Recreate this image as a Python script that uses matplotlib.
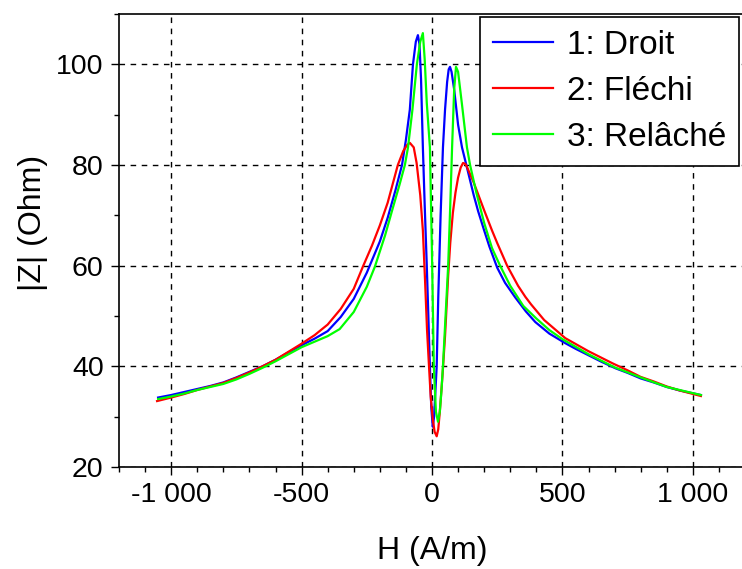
import matplotlib
matplotlib.use('Agg')
import matplotlib.pyplot as plt
from matplotlib.ticker import MultipleLocator, FuncFormatter

plt.rcParams['font.family'] = ['Liberation Sans', 'DejaVu Sans']

# 1: Droit
h_droit = [-1050, -1000, -950, -900, -850, -800, -750, -700, -650, -600, -550, -500,
           -450, -400, -350, -300, -250, -200, -170, -140, -115, -100, -85, -73, -62, -54,
           -48, -42, -35, -28, -20, -14, -8, -3, 3, 8, 13, 18, 24, 33, 42, 50, 58, 64, 69,
           75, 85, 100, 115, 134, 160, 177, 200, 220, 250, 280, 319, 360, 396, 450, 511, 550,
           600, 650, 704, 750, 800, 850, 900, 950, 1031]
z_droit = [33.8, 34.3, 34.9, 35.5, 36.1, 36.8, 37.8, 38.9, 40.0, 41.3, 42.8, 44.2,
           45.5, 47.0, 49.8, 53.4, 58.6, 64.8, 69.5, 75.0, 80.0, 85.0, 91.0, 100.0, 104.5, 105.8,
           104.0, 97.0, 83.5, 72.0, 60.0, 50.0, 40.0, 32.0, 28.0, 30.0, 35.0, 40.0, 53.7, 70.0, 83.5, 91.0, 96.5, 99.0, 99.5,
           98.5, 95.0, 88.0, 83.5, 79.5, 74.0, 70.8, 67.0, 63.8, 59.6, 56.6, 53.7, 50.9, 48.8, 46.5, 44.6, 43.5,
           42.2, 40.9, 39.6, 38.7, 37.6, 36.8, 35.9, 35.2, 34.3]

# 2: Fléchi
h_flechi = [-1054, -1000, -950, -900, -850, -800, -750, -700, -650, -600, -550, -500,
            -450, -400, -350, -300, -265, -230, -200, -170, -131, -110, -95, -85, -70, -59,
            -45, -35, -27, -19, -12, -5, 3, 10, 18, 24, 30, 40, 50, 62, 70, 80, 90, 100,
            110, 119, 128, 135, 160, 200, 230, 250, 288, 330, 358, 380, 430, 511, 600, 692,
            750, 800, 850, 900, 950, 1031]
z_flechi = [33.1, 33.8, 34.5, 35.3, 36.0, 36.7, 37.7, 38.8, 40.0, 41.3, 42.9, 44.5,
            46.2, 48.3, 51.4, 55.4, 59.8, 64.0, 68.0, 72.5, 80.0, 82.8, 84.0, 84.4, 83.5, 80.4,
            74.0, 67.0, 57.5, 47.2, 40.5, 34.0, 29.5, 27.0, 26.1, 27.5, 31.0, 38.0, 46.0, 58.0, 64.5, 70.5, 74.5, 77.5,
            79.5, 80.4, 80.2, 79.5, 76.5, 71.0, 67.0, 64.5, 60.0, 56.0, 53.8, 52.3, 49.2, 45.6, 43.0, 40.6,
            39.2, 37.9, 37.0, 36.0, 35.2, 34.1]

# 3: Relâché
h_relache = [-1050, -1000, -950, -900, -850, -800, -750, -700, -650, -600, -550, -500,
             -450, -400, -354, -300, -250, -219, -180, -150, -125, -104, -92, -75, -58, -45,
             -35, -28, -20, -8, 0, 7, 15, 23, 30, 36, 42, 52, 62, 70, 77, 85, 92, 100,
             115, 134, 146, 170, 200, 230, 261, 300, 350, 400, 450, 500, 600, 700, 800, 900, 1031]
z_relache = [33.5, 34.0, 34.6, 35.3, 35.9, 36.5, 37.4, 38.5, 39.7, 41.0, 42.4, 43.8,
             44.9, 46.0, 47.4, 50.8, 55.8, 59.8, 66.0, 71.5, 76.0, 80.0, 83.5, 91.0, 100.0, 104.5,
             106.2, 101.0, 92.3, 83.5, 62.0, 40.0, 31.0, 29.0, 31.0, 35.0, 40.0, 50.0, 60.0, 72.0, 83.5, 95.0, 99.5, 98.5,
             92.0, 83.5, 80.0, 74.5, 68.5, 63.5, 60.0, 56.0, 52.0, 49.5, 47.2, 45.4, 42.4, 39.8, 37.8, 35.9, 34.3]

labels = ['1: Droit', '2: Fléchi', '3: Relâché']
colors = ['#0000ff', '#ff0000', '#00ff00']

fig = plt.figure(figsize=(7.42, 5.69), dpi=100)
ax = fig.add_axes([119 / 742, 1 - 467 / 569, 626 / 742, 453 / 569])

ax.plot(h_droit, z_droit, color=colors[0], lw=1.6, label=labels[0])
ax.plot(h_flechi, z_flechi, color=colors[1], lw=1.6, label=labels[1])
ax.plot(h_relache, z_relache, color=colors[2], lw=1.6, label=labels[2])

ax.set_xlim(-1200, 1200)
ax.set_ylim(20, 110)
ax.set_xticks([-1000, -500, 0, 500, 1000])
ax.set_yticks([20, 40, 60, 80, 100])
ax.xaxis.set_minor_locator(MultipleLocator(100))
ax.yaxis.set_minor_locator(MultipleLocator(10))
ax.xaxis.set_major_formatter(FuncFormatter(lambda v, p: f'{int(v):,}'.replace(',', ' ')))
ax.tick_params(which='major', direction='out', length=6, width=1, labelsize=20.5, colors='black', pad=5)
ax.tick_params(which='minor', direction='out', length=3.5, width=1)
ax.grid(True, which='major', color='black', linestyle=(0, (4, 4)), linewidth=1)
for side in ['left', 'bottom', 'top']:
    ax.spines[side].set_linewidth(1.2)
ax.spines['right'].set_visible(False)

ax.set_xlabel('H (A/m)', fontsize=23, labelpad=20)
ax.set_ylabel('|Z| (Ohm)', fontsize=23)
ax.yaxis.set_label_coords(-0.114, 0.539)

leg = ax.legend(loc='upper right', bbox_to_anchor=(739 / 742, 1 - 17 / 569),
                bbox_transform=fig.transFigure, borderaxespad=0, fontsize=24,
                fancybox=False, framealpha=1, edgecolor='black',
                handlelength=1.8, labelspacing=0.45, borderpad=0.39, handletextpad=0.4)
leg.get_frame().set_linewidth(1.2)

fig.savefig('out.png', dpi=100)
